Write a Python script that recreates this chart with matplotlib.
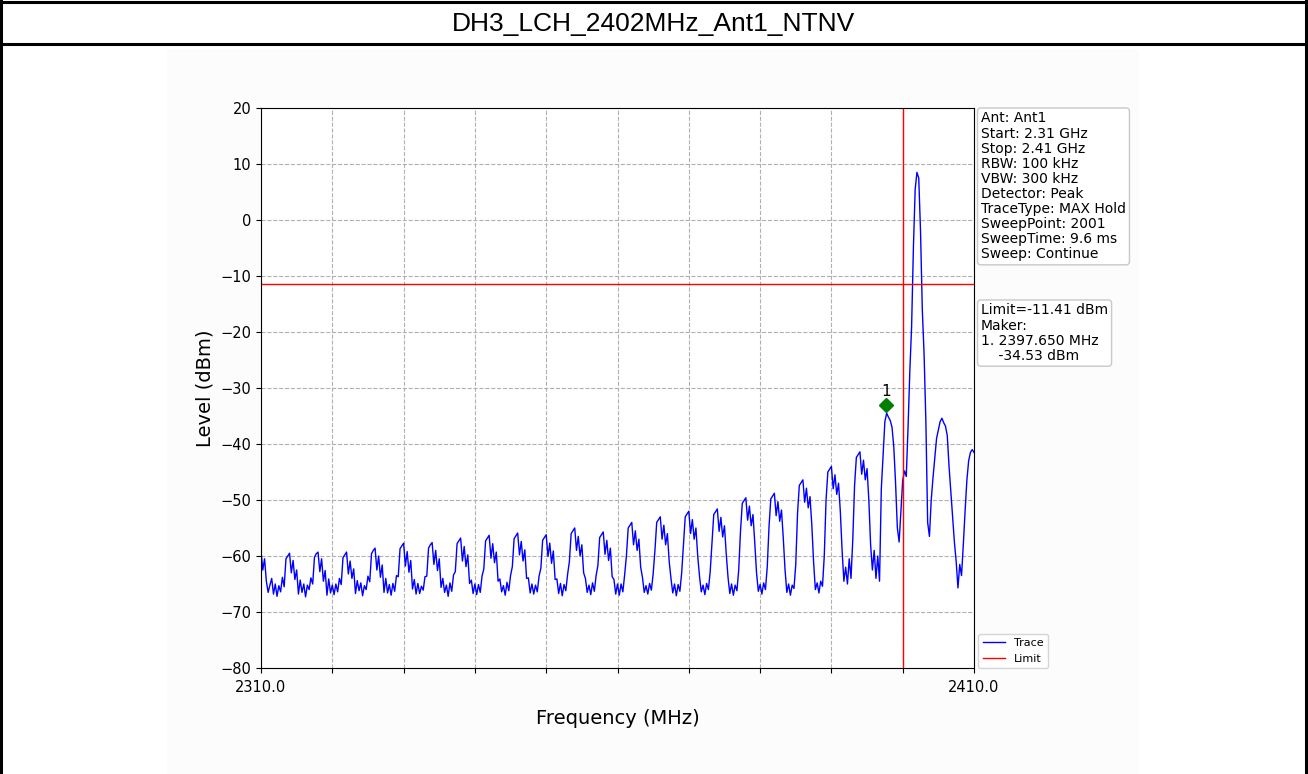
import matplotlib.pyplot as plt
import numpy as np
from matplotlib.lines import Line2D
from matplotlib.patches import Rectangle

title = 'DH3_LCH_2402MHz_Ant1_NTNV'
f_start, f_stop, f_step = 2310.0, 2410.0, 0.25
limit_dbm = -11.41
band_edge_mhz = 2400.0
marker_mhz = 2397.650
marker_dbm = -34.53

info_lines = ['Ant: Ant1', 'Start: 2.31 GHz', 'Stop: 2.41 GHz', 'RBW: 100 kHz',
              'VBW: 300 kHz', 'Detector: Peak', 'TraceType: MAX Hold',
              'SweepPoint: 2001', 'SweepTime: 9.6 ms', 'Sweep: Continue']

# trace, one row per 4 MHz (0.25 MHz steps)
level_dbm = [
    -59.0, -62.5, -60.5, -64.5, -66.5, -65.2, -64.0, -66.8, -65.0, -67.2, -65.3, -66.4, -63.8, -65.5, -60.5, -60.0,  # 2310
    -59.5, -63.0, -60.8, -64.2, -62.5, -66.8, -64.3, -66.5, -65.0, -67.3, -65.2, -66.0, -63.9, -65.0, -60.2, -59.6,  # 2314
    -59.3, -62.8, -60.5, -64.5, -62.6, -67.0, -64.1, -66.6, -65.2, -66.9, -65.0, -66.4, -64.0, -65.1, -60.3, -59.8,  # 2318
    -59.3, -63.2, -60.9, -64.0, -62.3, -66.7, -64.4, -66.2, -64.8, -67.1, -65.3, -66.0, -63.6, -64.6, -59.6, -59.0,  # 2322
    -58.6, -62.5, -60.0, -63.8, -61.6, -66.5, -64.0, -66.6, -65.1, -67.0, -64.9, -66.3, -63.5, -63.7, -58.7, -58.2,  # 2326
    -57.7, -61.8, -59.2, -62.9, -60.8, -65.9, -64.2, -66.8, -64.9, -66.7, -65.4, -66.1, -63.7, -63.6, -58.6, -58.0,  # 2330
    -57.6, -61.5, -59.0, -62.6, -60.5, -65.6, -64.0, -66.5, -65.2, -67.2, -64.8, -66.3, -63.4, -62.8, -57.8, -57.3,  # 2334
    -56.8, -60.9, -58.3, -61.9, -59.8, -64.9, -64.3, -66.7, -65.0, -66.9, -65.1, -66.5, -63.6, -62.3, -57.3, -56.8,  # 2338
    -56.3, -60.4, -57.8, -61.2, -59.3, -64.5, -64.1, -66.4, -65.3, -67.0, -64.7, -66.2, -63.5, -61.9, -56.9, -56.4,  # 2342
    -55.9, -59.8, -57.4, -60.9, -58.9, -64.0, -63.9, -66.6, -65.0, -66.8, -65.2, -66.4, -63.6, -62.2, -57.2, -56.7,  # 2346
    -56.2, -60.1, -57.7, -61.3, -59.1, -64.2, -64.1, -66.7, -64.9, -67.1, -65.1, -66.2, -63.3, -61.0, -56.0, -55.5,  # 2350
    -55.0, -59.0, -56.5, -60.0, -58.0, -63.0, -64.0, -66.5, -65.2, -66.9, -64.8, -66.3, -63.5, -61.7, -56.7, -56.2,  # 2354
    -55.7, -59.7, -57.2, -60.8, -58.6, -63.7, -64.2, -66.8, -65.0, -67.0, -65.0, -66.4, -63.4, -60.0, -55.0, -54.5,  # 2358
    -54.0, -58.0, -55.5, -59.0, -57.0, -62.0, -63.8, -66.5, -65.3, -66.8, -64.9, -66.1, -63.2, -59.0, -54.0, -53.5,  # 2362
    -53.0, -57.0, -54.5, -58.0, -56.0, -61.0, -64.0, -66.6, -65.0, -67.1, -65.1, -66.3, -63.0, -58.0, -53.0, -52.5,  # 2366
    -52.0, -56.0, -53.5, -57.0, -55.0, -60.0, -63.6, -66.4, -65.2, -66.9, -64.9, -66.0, -62.8, -57.6, -52.6, -52.1,  # 2370
    -51.6, -55.6, -53.1, -56.6, -54.6, -59.6, -63.8, -66.7, -65.0, -67.0, -65.2, -66.2, -62.5, -55.6, -50.6, -50.1,  # 2374
    -49.6, -53.6, -51.1, -54.6, -52.6, -57.6, -63.0, -66.3, -65.1, -66.8, -64.8, -66.0, -62.0, -54.8, -49.8, -49.3,  # 2378
    -48.8, -52.8, -50.3, -53.8, -51.8, -56.8, -62.5, -66.5, -65.0, -67.0, -65.2, -65.8, -61.5, -52.4, -47.4, -46.9,  # 2382
    -46.4, -50.4, -47.9, -51.4, -49.4, -54.4, -61.0, -66.0, -64.8, -66.6, -64.5, -65.4, -60.0, -50.0, -45.0, -44.5,  # 2386
    -44.0, -48.0, -45.5, -49.0, -47.0, -52.0, -59.0, -64.5, -62.0, -65.0, -60.5, -64.0, -57.0, -47.4, -42.4, -41.9,  # 2390
    -41.4, -45.4, -42.9, -46.4, -44.4, -50.0, -58.0, -62.5, -59.0, -64.0, -60.0, -64.5, -48.0, -42.0, -36.0, -34.5,  # 2394
    -35.2, -35.8, -37.0, -40.5, -47.0, -55.0, -57.5, -52.0, -46.5, -44.8, -45.8, -37.0, -27.0, -19.0, -5.0, 5.5,     # 2398
    8.5, 7.5, -2.0, -16.0, -24.0, -36.0, -54.0, -56.5, -50.0, -46.0, -42.5, -39.0, -37.5, -36.0, -35.4, -36.2,       # 2402
    -36.8, -38.5, -44.0, -48.5, -53.0, -57.5, -61.0, -65.7, -61.5, -63.5, -58.0, -52.0, -46.5, -43.0, -41.5, -41.0,  # 2406
    -41.5,  # 2410
]

freq = np.arange(f_start, f_stop + f_step / 2, f_step)

W, H = 1308, 774
fig = plt.figure(figsize=(W / 100, H / 100), dpi=100)


def fx(px):
    return px / W


def fy(py):
    return 1 - py / H


# light panel behind the chart and the outer table border
fig.add_artist(Rectangle((fx(167), 0), fx(1138) - fx(167), fy(50),
                         transform=fig.transFigure, color='#fcfcfc', zorder=-10))
for x0, y0, x1, y1 in [(0, 2, W, 2), (0, 44, W, 44), (1, 0, 1, H), (1306, 0, 1306, H)]:
    fig.add_artist(Line2D([fx(x0), fx(x1)], [fy(y0), fy(y1)], color='black', lw=2.2))
fig.text(0.5, fy(24.5), title, fontsize=19, family='Liberation Sans', ha='center', va='center')

ax = fig.add_axes([fx(261), fy(668), fx(974) - fx(261), fy(108) - fy(668)])
ax.plot(freq, level_dbm, color='blue', lw=1.0, label='Trace')
ax.axhline(limit_dbm, color='red', lw=1, label='Limit')
ax.axvline(band_edge_mhz, color='red', lw=1)
ax.plot(marker_mhz, marker_dbm + 1.5, 'D', color='green', ms=7, zorder=5)
ax.text(marker_mhz, marker_dbm + 2.6, '1', ha='center', va='bottom', fontsize=11)

ax.set_xlim(f_start, f_stop)
ax.set_ylim(-80, 20)
xt = np.arange(f_start, f_stop + 1, 10)
ax.set_xticks(xt)
ax.set_xticklabels(['%.1f' % v if v in (f_start, f_stop) else '' for v in xt])
ax.set_yticks(np.arange(-80, 21, 10))
ax.tick_params(labelsize=10.5)
ax.tick_params(axis='x', pad=5)
ax.grid(True, ls='--', color='#b0b0b0', lw=0.8)
ax.set_xlabel('Frequency (MHz)', fontsize=14, labelpad=10)
ax.set_ylabel('Level (dBm)', fontsize=14)

box = dict(boxstyle='round,pad=0.25', fc='white', ec='#c8c8c8')
ax.text(1.0098, 0.9938, '\n'.join(info_lines), transform=ax.transAxes, va='top', ha='left',
        fontsize=10, linespacing=1.1, bbox=box)
ax.text(1.0098, 0.651, 'Limit=%.2f dBm\nMaker:\n1. %.3f MHz\n    %.2f dBm' % (limit_dbm, marker_mhz, marker_dbm),
        transform=ax.transAxes, va='top', ha='left', fontsize=10, linespacing=1.1, bbox=box)
ax.legend(loc='lower left', bbox_to_anchor=(1.006, 0.0), borderaxespad=0, fontsize=8)

fig.savefig('out.png', dpi=100)
